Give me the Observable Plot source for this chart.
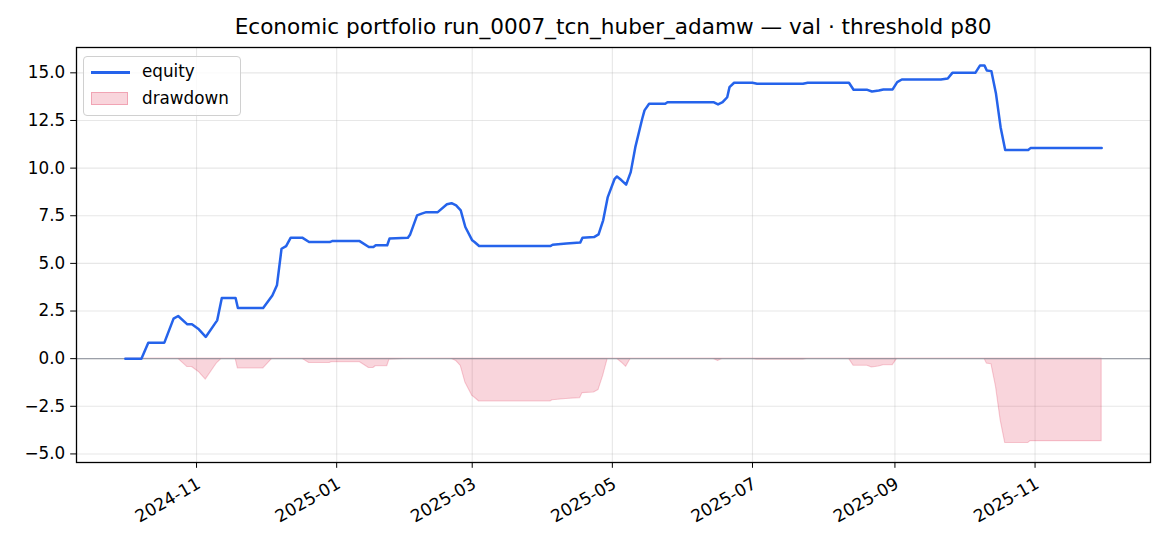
<!DOCTYPE html>
<html>
<head>
<meta charset="utf-8">
<script src="https://cdn.jsdelivr.net/npm/d3@7"></script>
<script src="https://cdn.jsdelivr.net/npm/@observablehq/plot@0.6"></script>
<style>
  html, body { margin: 0; padding: 0; background: white; }
  #wrap { position: relative; width: 1170px; height: 546px; font-family: "DejaVu Sans", sans-serif; }
  #title { position: absolute; left: 0; width: 1226px; top: 14px; text-align: center; font-size: 21.6px; color: #000; white-space: nowrap; line-height: 26px; }
  #legend { position: absolute; left: 83px; top: 56px; width: 158px; height: 60px; border: 1.3px solid #d0d0d0; border-radius: 4px; background: rgba(255,255,255,0.8); box-sizing: border-box; }
  .lg-item { position: absolute; left: 58px; font-size: 16.8px; line-height: 20px; color: #000; }
  .lg-line { position: absolute; left: 7px; width: 39px; height: 2.6px; background: #2563eb; }
  .lg-patch { position: absolute; left: 7px; width: 37px; height: 13px; background: rgba(220,20,60,0.18); border: 1px solid rgba(220,20,60,0.25); box-sizing: border-box; }
</style>
</head>
<body>
<div id="wrap">
  <div id="chart"></div>
  <div id="title">Economic portfolio run_0007_tcn_huber_adamw — val · threshold p80</div>
  <div id="legend">
    <div class="lg-line" style="top:14px"></div>
    <div class="lg-item" style="top:4px">equity</div>
    <div class="lg-patch" style="top:35px"></div>
    <div class="lg-item" style="top:31px">drawdown</div>
  </div>
</div>
<script>
const dates = [
  "2024-10-01","2024-10-08","2024-10-11","2024-10-18","2024-10-22","2024-10-24","2024-10-28","2024-10-30",
  "2024-11-02","2024-11-05","2024-11-09","2024-11-10","2024-11-12","2024-11-18","2024-11-19","2024-11-30",
  "2024-12-04","2024-12-06","2024-12-08","2024-12-10","2024-12-12","2024-12-17","2024-12-20","2024-12-29",
  "2024-12-30","2025-01-11","2025-01-15","2025-01-17","2025-01-18","2025-01-23","2025-01-24","2025-02-01",
  "2025-02-02","2025-02-05","2025-02-07","2025-02-09","2025-02-14","2025-02-18","2025-02-20","2025-02-22",
  "2025-02-24","2025-02-26","2025-03-01","2025-03-02","2025-03-04","2025-04-04","2025-04-05","2025-04-11",
  "2025-04-17","2025-04-18","2025-04-23","2025-04-25","2025-04-27","2025-04-29","2025-05-02","2025-05-03",
  "2025-05-05","2025-05-07","2025-05-09","2025-05-11","2025-05-14","2025-05-15","2025-05-17","2025-05-24",
  "2025-05-25","2025-06-14","2025-06-16","2025-06-18","2025-06-20","2025-06-21","2025-06-23","2025-07-01",
  "2025-07-03","2025-07-23","2025-07-25","2025-08-12","2025-08-14","2025-08-20","2025-08-22","2025-08-25",
  "2025-08-27","2025-08-31","2025-09-02","2025-09-04","2025-09-21","2025-09-24","2025-09-26","2025-10-06",
  "2025-10-08","2025-10-10","2025-10-11","2025-10-13","2025-10-15","2025-10-17","2025-10-19","2025-10-29",
  "2025-10-30","2025-11-30"
];
const equity = [
  0.00,0.00,0.84,0.84,2.10,2.24,1.80,1.80,
  1.54,1.14,1.84,2.01,3.18,3.18,2.66,2.66,
  3.32,3.85,5.77,5.91,6.35,6.35,6.12,6.12,
  6.17,6.17,5.86,5.86,5.95,5.95,6.30,6.35,
  6.52,7.52,7.61,7.69,7.69,8.10,8.16,8.04,
  7.78,6.91,6.21,6.12,5.91,5.91,5.98,6.04,
  6.09,6.35,6.38,6.52,7.26,8.48,9.44,9.56,
  9.36,9.13,9.79,11.10,12.59,13.03,13.38,13.38,
  13.46,13.46,13.34,13.46,13.72,14.25,14.48,14.48,
  14.43,14.43,14.48,14.48,14.11,14.11,14.02,14.07,
  14.13,14.13,14.51,14.65,14.65,14.70,15.00,15.00,
  15.38,15.38,15.12,15.09,13.90,12.15,10.95,10.95,
  11.05,11.05
];
const drawdown = [
  0.00,0.00,0.00,0.00,0.00,0.00,-0.44,-0.44,
  -0.70,-1.10,-0.40,-0.23,0.00,0.00,-0.52,-0.52,
  0.00,0.00,0.00,0.00,0.00,0.00,-0.23,-0.23,
  -0.18,-0.18,-0.49,-0.49,-0.40,-0.40,-0.05,0.00,
  0.00,0.00,0.00,0.00,0.00,0.00,0.00,-0.12,
  -0.38,-1.25,-1.95,-2.04,-2.25,-2.25,-2.18,-2.12,
  -2.07,-1.81,-1.78,-1.64,-0.90,0.00,0.00,0.00,
  -0.20,-0.43,0.00,0.00,0.00,0.00,0.00,0.00,
  0.00,0.00,-0.12,0.00,0.00,0.00,0.00,0.00,
  -0.05,-0.05,0.00,0.00,-0.37,-0.37,-0.46,-0.41,
  -0.35,-0.35,0.00,0.00,0.00,0.00,0.00,0.00,
  0.00,0.00,-0.26,-0.29,-1.48,-3.23,-4.43,-4.43,
  -4.33,-4.33
];
const xTickDates = ["2024-11-01","2025-01-01","2025-03-01","2025-05-01","2025-07-01","2025-09-01","2025-11-01"];
const xTickLabels = ["2024-11","2025-01","2025-03","2025-05","2025-07","2025-09","2025-11"];
const yTicks = [-5, -2.5, 0, 2.5, 5, 7.5, 10, 12.5, 15];
const yTickLabels = ["\u22125.0","\u22122.5","0.0","2.5","5.0","7.5","10.0","12.5","15.0"];

const rows = dates.map((d, i) => ({date: new Date(d + "T00:00:00Z"), equity: equity[i], dd: drawdown[i]}));
const xTicks = xTickDates.map(d => new Date(d + "T00:00:00Z"));
const xTickRows = xTicks.map((d, i) => ({date: d, label: xTickLabels[i]}));

const chart = Plot.plot({
  width: 1170,
  height: 546,
  marginLeft: 76,
  marginRight: 20,
  marginTop: 47,
  marginBottom: 84,
  style: {fontFamily: "DejaVu Sans", fontSize: "16.8px", background: "white", color: "black"},
  x: {type: "utc", domain: [new Date("2024-09-09T18:00:00Z"), new Date("2025-12-21T06:00:00Z")]},
  y: {domain: [-5.45, 16.33]},
  marks: [
    Plot.gridX({ticks: xTicks, stroke: "#b0b0b0", strokeOpacity: 0.3, strokeWidth: 1.1}),
    Plot.gridY({ticks: yTicks, stroke: "#b0b0b0", strokeOpacity: 0.3, strokeWidth: 1.1}),
    Plot.areaY(rows, {x: "date", y: "dd", fill: "#dc143c", fillOpacity: 0.18, stroke: "#dc143c", strokeOpacity: 0.2, strokeWidth: 1.1, curve: "linear"}),
    Plot.ruleY([0], {stroke: "#8a8f99", strokeWidth: 1.1, strokeOpacity: 0.8}),
    Plot.lineY(rows, {x: "date", y: "equity", stroke: "#2563eb", strokeWidth: 2.5, curve: "linear"}),
    Plot.frame({stroke: "black", strokeWidth: 1.3}),
    Plot.axisY({ticks: yTicks, tickFormat: (d, i) => yTickLabels[i], tickSize: 5.8, tickPadding: 5.5, fontSize: 16.8, label: null}),
    Plot.axisX({ticks: xTicks, tickFormat: () => "", tickSize: 5.8, label: null}),
    Plot.text(xTickRows, {x: "date", text: "label", frameAnchor: "bottom", dy: 14, dx: -1, rotate: -30, textAnchor: "end", lineAnchor: "top", fontSize: 17.2, fill: "black"})
  ]
});
document.getElementById("chart").appendChild(chart);
</script>
</body>
</html>
